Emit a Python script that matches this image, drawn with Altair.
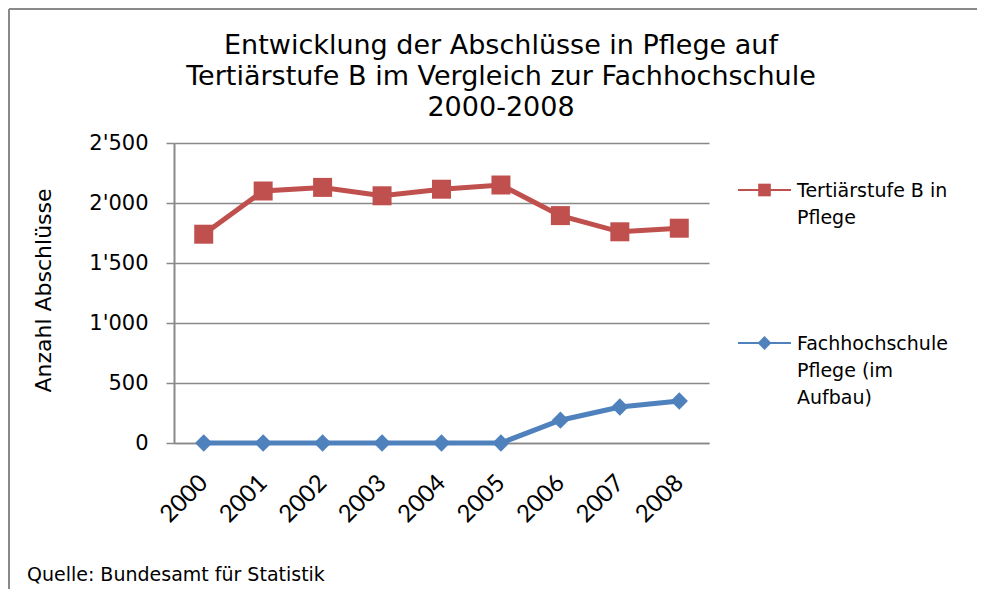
import altair as alt
import pandas as pd

years = ["2000", "2001", "2002", "2003", "2004", "2005", "2006", "2007", "2008"]
tertiaer_b = [1740, 2100, 2130, 2060, 2115, 2150, 1895, 1760, 1790]
fachhochschule = [0, 0, 0, 0, 0, 0, 190, 300, 350]
series_names = ["Tertiärstufe B in Pflege", "Fachhochschule Pflege (im Aufbau)"]
series_label_lines = [["Tertiärstufe B in", "Pflege"], ["Fachhochschule", "Pflege (im", "Aufbau)"]]
series_colors = ["#C0504D", "#4F81BD"]
series_shapes = ["square", "diamond"]
y_ticks = [0, 500, 1000, 1500, 2000, 2500]
title_lines = [
    "Entwicklung der Abschlüsse in Pflege auf",
    "Tertiärstufe B im Vergleich zur Fachhochschule",
    "2000-2008",
]
y_title = "Anzahl Abschlüsse"
source_note = "Quelle: Bundesamt  für Statistik"

df = pd.DataFrame({
    "year": years * 2,
    "value": tertiaer_b + fachhochschule,
    "series": [series_names[0]] * len(years) + [series_names[1]] * len(years),
})
one = pd.DataFrame({"k": [0]})

GRAY = "#898989"

x_enc = alt.X(
    "year:O",
    title=None,
    axis=alt.Axis(
        labelAngle=-45, labelAlign="right", labelBaseline="middle",
        labelFont="Lato", labelFontSize=24, labelColor="#000", labelPadding=36,
        ticks=False, domainColor=GRAY, domainWidth=1.5,
    ),
)
y_enc = alt.Y(
    "value:Q",
    scale=alt.Scale(domain=[0, 2500], nice=False),
    axis=alt.Axis(
        values=y_ticks,
        labelExpr="replace(format(datum.value, ','), ',', \"'\")",
        labelFont="DejaVu Sans", labelFontSize=21, labelColor="#000", labelPadding=18,
        tickColor=GRAY, tickSize=8, tickWidth=1.5,
        domainColor=GRAY, domainWidth=2,
        gridColor=GRAY, gridWidth=1.5,
        title=y_title, titleFont="DejaVu Sans", titleFontSize=22, titleFontWeight="normal",
        titleColor="#000", titleX=-131, titleY=147, titleAngle=270,
        titleAlign="center", titleBaseline="middle",
    ),
)
color_scale = alt.Scale(domain=series_names, range=series_colors)
color_enc = alt.Color("series:N", scale=color_scale, legend=None)

base = alt.Chart(df)

line = base.mark_line(strokeWidth=5).encode(x=x_enc, y=y_enc, color=color_enc)
point_layers = []
for name, shape, size in zip(series_names, series_shapes, [361, 300]):
    point_layers.append(
        base.transform_filter(alt.datum.series == name).mark_point(
            shape=shape, filled=True, size=size, opacity=1
        ).encode(x=x_enc, y=y_enc, color=color_enc)
    )

# legend (right side), one entry per series
legend_layers = []
for i, (color, shape, lines) in enumerate(zip(series_colors, series_shapes, series_label_lines)):
    cy = 47 + 153 * i
    legend_layers.append(
        alt.Chart(one).mark_rule(color=color, strokeWidth=2).encode(
            x=alt.value(564), x2=alt.value(617), y=alt.value(cy)
        )
    )
    legend_layers.append(
        alt.Chart(one).mark_point(shape=shape, filled=True, opacity=1, color=color,
                                  size=160 if shape == "square" else 190).encode(
            x=alt.value(590.5), y=alt.value(cy)
        )
    )
    legend_layers.append(
        alt.Chart(one).mark_text(
            align="left", baseline="alphabetic", font="DejaVu Sans", fontSize=19,
            lineHeight=27, color="#000"
        ).encode(x=alt.value(623), y=alt.value(cy + 7), text=alt.value(lines))
    )

top_rule = alt.Chart(one).mark_rule(color=GRAY, strokeWidth=2).encode(
    x=alt.value(-165), x2=alt.value(803), y=alt.value(-134)
)
left_rule = alt.Chart(one).mark_rule(color=GRAY, strokeWidth=2).encode(
    x=alt.value(-165), y=alt.value(-134), y2=alt.value(446)
)
title_text = alt.Chart(one).mark_text(
    align="center", baseline="alphabetic", font="DejaVu Sans", fontSize=27,
    lineHeight=31, color="#000"
).encode(x=alt.value(327), y=alt.value(-89), text=alt.value(title_lines))
note = alt.Chart(one).mark_text(
    align="left", baseline="alphabetic", font="DejaVu Sans", fontSize=19, color="#000"
).encode(x=alt.value(-147), y=alt.value(438), text=alt.value(source_note))

chart = alt.layer(
    top_rule, left_rule, line, *point_layers, *legend_layers, title_text, note
).properties(
    width=535,
    height=300,
    autosize=alt.AutoSizeParams(type="none"),
    padding={"left": 166, "top": 135, "right": 268, "bottom": 146},
).configure_view(strokeWidth=0)

chart.save("out.html", embed_options={"renderer": "svg", "actions": False})
